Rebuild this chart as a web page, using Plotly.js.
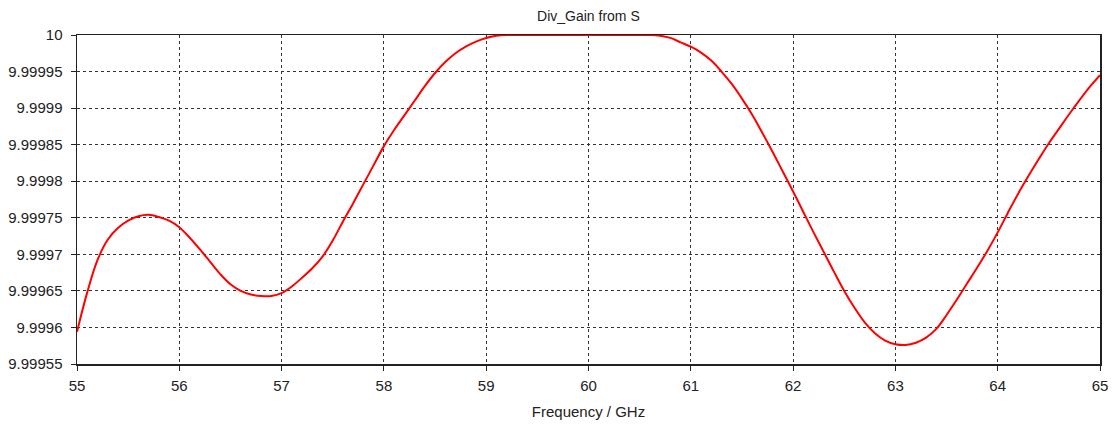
<!DOCTYPE html>
<html>
<head>
<meta charset="utf-8">
<script src="https://cdn.plot.ly/plotly-3.0.1.min.js"></script>
<style>html,body{margin:0;padding:0;background:#fff;}#chart{width:1118px;height:427px;}</style>
</head>
<body>
<div id="chart"></div>
<script>
const freqGHz = [55.0, 55.1, 55.2, 55.3, 55.4, 55.5, 55.6, 55.7, 55.8, 55.9,
  56.0, 56.1, 56.2, 56.3, 56.4, 56.5, 56.6, 56.7, 56.8, 56.9,
  57.0, 57.1, 57.2, 57.3, 57.4, 57.5, 57.6, 57.7, 57.8, 57.9,
  58.0, 58.1, 58.2, 58.3, 58.4, 58.5, 58.6, 58.7, 58.8, 58.9,
  59.0, 59.1, 59.2, 59.4, 59.6, 59.8, 60.0, 60.2, 60.4, 60.6, 60.7, 60.8, 60.9,
  61.0, 61.1, 61.2, 61.3, 61.4, 61.5, 61.6, 61.7, 61.8, 61.9,
  62.0, 62.1, 62.2, 62.3, 62.4, 62.5, 62.6, 62.7, 62.8, 62.9,
  63.0, 63.1, 63.2, 63.3, 63.4, 63.5, 63.6, 63.7, 63.8, 63.9,
  64.0, 64.1, 64.2, 64.3, 64.4, 64.5, 64.6, 64.7, 64.8, 64.9, 65.0];
const divGain = [9.999594, 9.999648, 9.999692, 9.999720, 9.999736, 9.999746, 9.999752, 9.999754, 9.999751, 9.999746,
  9.999737, 9.999723, 9.999707, 9.999690, 9.999673, 9.999659, 9.999650, 9.999645, 9.999643, 9.999643,
  9.999647, 9.999656, 9.999668, 9.999681, 9.999697, 9.999719, 9.999745, 9.999770, 9.999796, 9.999822,
  9.999848, 9.999870, 9.999890, 9.999910, 9.999930, 9.999948, 9.999963, 9.999975, 9.999984, 9.999991,
  9.999996, 9.999999, 10.0, 10.0, 10.0, 10.0, 10.0, 10.0, 10.0, 10.0, 9.999999, 9.999996, 9.999990,
  9.999984, 9.999976, 9.999965, 9.999950, 9.999933, 9.999913, 9.999891, 9.999866, 9.999840, 9.999813,
  9.999786, 9.999758, 9.999730, 9.999703, 9.999676, 9.999650, 9.999627, 9.999607, 9.999592, 9.999582,
  9.999577, 9.999576, 9.999579, 9.999586, 9.999598, 9.999617, 9.999638, 9.999660, 9.999682, 9.999705,
  9.999730, 9.999757, 9.999783, 9.999807, 9.999830, 9.999852, 9.999872, 9.999892, 9.999911, 9.999929, 9.999945];
const yTickVals = [9.99955, 9.9996, 9.99965, 9.9997, 9.99975, 9.9998, 9.99985, 9.9999, 9.99995, 10];
const yTickText = ["9.99955", "9.9996", "9.99965", "9.9997", "9.99975", "9.9998", "9.99985", "9.9999", "9.99995", "10"];
const xTickVals = [55, 56, 57, 58, 59, 60, 61, 62, 63, 64, 65];

const font = {family: "Liberation Sans, Arial, sans-serif", size: 15, color: "#222"};

Plotly.newPlot("chart", [{
  x: freqGHz, y: divGain, type: "scatter", mode: "lines",
  line: {color: "#ff0000", width: 2, shape: "spline", smoothing: 1},
  hoverinfo: "skip"
}], {
  width: 1118, height: 427,
  margin: {l: 77, r: 18, t: 35, b: 63, pad: 0},
  paper_bgcolor: "#fff", plot_bgcolor: "#fff",
  showlegend: false,
  font: font,
  title: {text: "Div_Gain from S", font: {family: font.family, size: 14, color: "#222"}, x: 0.5263, xanchor: "center", y: 0.962, yanchor: "middle"},
  xaxis: {
    range: [55, 65], tickvals: xTickVals, ticktext: xTickVals.map(String),
    showgrid: true, gridcolor: "#333", gridwidth: 1, griddash: "3px,3px",
    showline: true, linecolor: "#222", linewidth: 1.5, mirror: true,
    ticks: "outside", ticklen: 5, tickcolor: "#222", tickfont: font, ticklabelstandoff: 2,
    zeroline: false,
    title: {text: "Frequency / GHz", font: {family: font.family, size: 15, color: "#222"}, standoff: 14}
  },
  yaxis: {
    range: [9.99955, 10], tickvals: yTickVals, ticktext: yTickText,
    showgrid: true, gridcolor: "#333", gridwidth: 1, griddash: "3px,3px",
    showline: true, linecolor: "#222", linewidth: 1.5, mirror: true,
    ticks: "outside", ticklen: 5, tickcolor: "#222", tickfont: font, ticklabelstandoff: 5,
    zeroline: false
  }
}, {staticPlot: true});
</script>
</body>
</html>
